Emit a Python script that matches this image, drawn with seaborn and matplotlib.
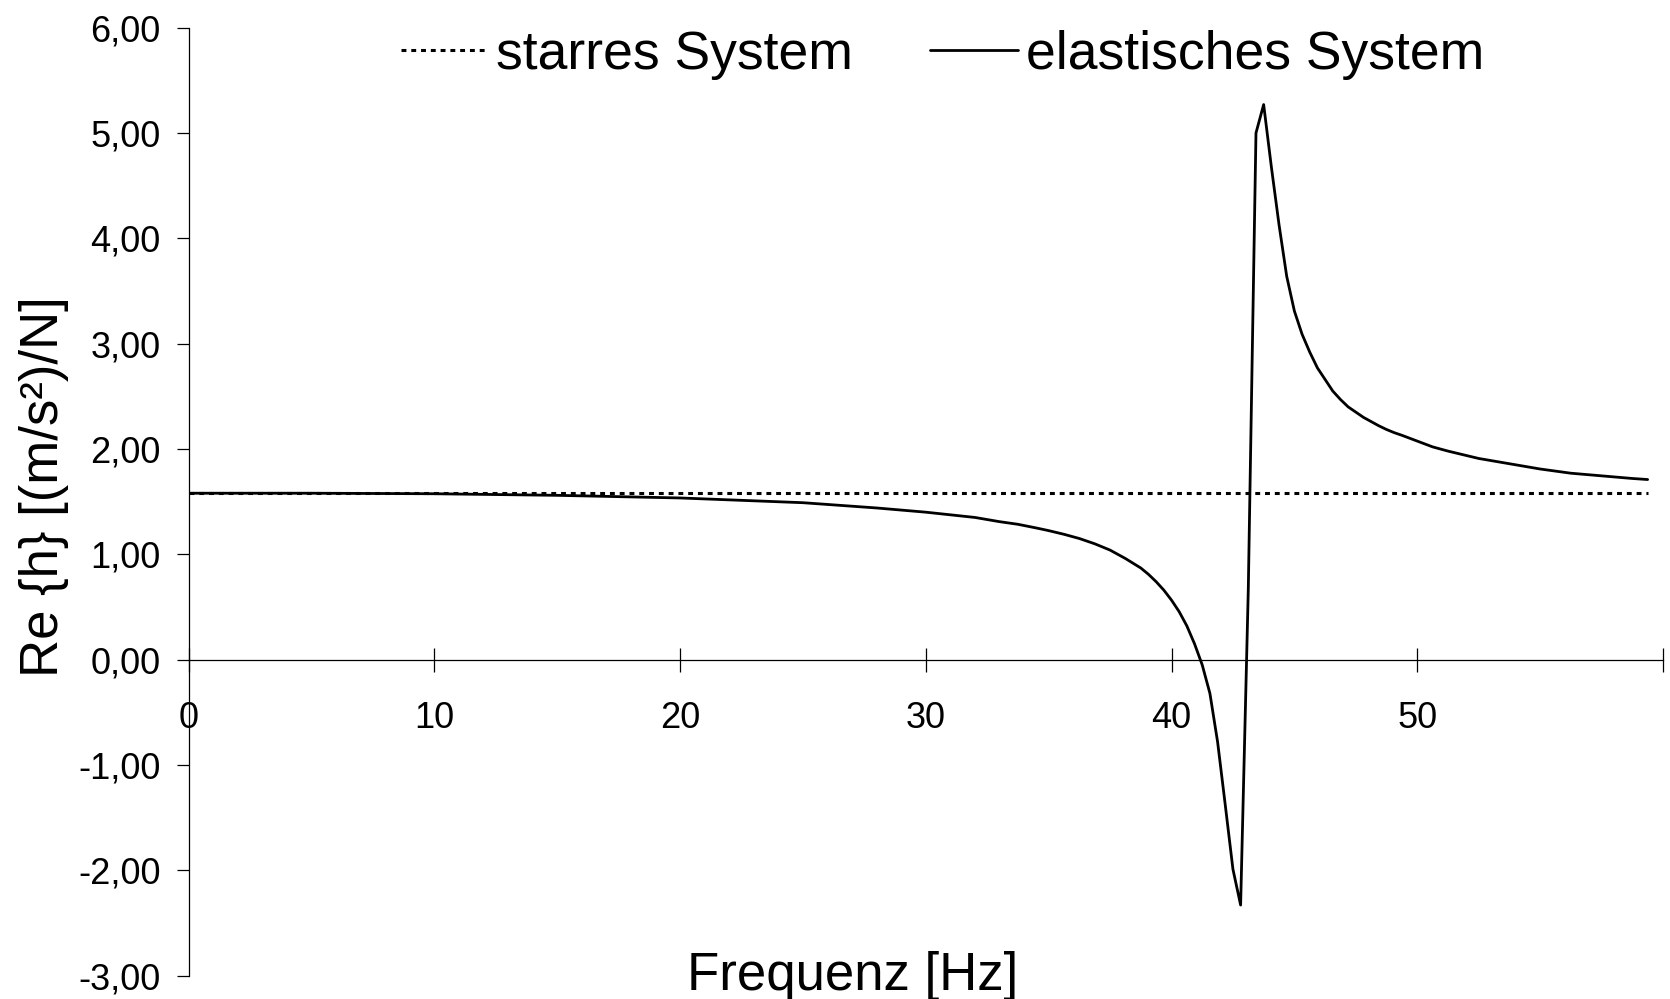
import numpy as np
import pandas as pd
import seaborn as sns
import matplotlib
matplotlib.use("Agg")
from matplotlib import pyplot as plt

# Frequenz [Hz] und Re{h} fuer elastisches System
freq_el = [0.0, 5.0, 10.0, 15.0, 20.0, 25.0, 28.0, 30.0, 31.0, 32.0, 33.0, 33.75,
           34.5, 35.0, 35.625, 36.25, 36.875, 37.5, 38.125, 38.75, 39.0625,
           39.375, 39.6875, 40.0, 40.3125, 40.625, 40.9375, 41.25, 41.5625,
           41.875, 42.1875, 42.5, 42.8125, 43.125, 43.4375, 43.75, 44.0625,
           44.375, 44.6875, 45.0, 45.3125, 45.625, 45.9375, 46.25, 46.5625,
           46.875, 47.1875, 47.5, 47.8125, 48.125, 48.4375, 48.75, 49.0625,
           49.375, 50.0, 50.625, 51.25, 52.5, 53.75, 55.0, 56.25, 57.5, 58.75,
           59.375]
re_el = [1.58, 1.58, 1.575, 1.56, 1.535, 1.49, 1.44, 1.40, 1.375, 1.35, 1.31, 1.285,
         1.25, 1.225, 1.19, 1.15, 1.10, 1.04, 0.96, 0.87, 0.81,
         0.74, 0.66, 0.565, 0.455, 0.32, 0.15, -0.05, -0.32,
         -0.78, -1.38, -1.99, -2.33, 0.67, 5.00, 5.27, 4.68,
         4.13, 3.64, 3.31, 3.09, 2.92, 2.77, 2.66, 2.55,
         2.47, 2.40, 2.35, 2.30, 2.26, 2.22, 2.185, 2.155,
         2.13, 2.075, 2.02, 1.98, 1.91, 1.86, 1.81, 1.77, 1.745, 1.72,
         1.71]

# starres System: konstant
freq_st = [0.0, 59.375]
re_st = [1.58, 1.58]

yticks = [-3, -2, -1, 0, 1, 2, 3, 4, 5, 6]
ytick_labels = ["-3,00", "-2,00", "-1,00", "0,00", "1,00", "2,00", "3,00", "4,00", "5,00", "6,00"]
xticks = [0, 10, 20, 30, 40, 50, 60]
xtick_labels = ["0", "10", "20", "30", "40", "50", ""]

sns.set_style("white")
plt.rcParams['font.family'] = ['Liberation Sans', 'DejaVu Sans']
plt.rcParams['text.color'] = 'black'
plt.rcParams['axes.labelcolor'] = 'black'
plt.rcParams['xtick.color'] = 'black'
plt.rcParams['ytick.color'] = 'black'

fig = plt.figure(figsize=(16.7, 9.99), dpi=100)
ax = fig.add_axes([0.1129, 0.0234, 0.9958 - 0.1129, 0.9723 - 0.0234])

sns.lineplot(x=freq_st, y=re_st, ax=ax, color="black", lw=2.2,
             linestyle=(0, (1.6, 1.6)), label="starres System")
sns.lineplot(x=freq_el, y=re_el, ax=ax, color="black", lw=2.0,
             label="elastisches System")

ax.set_xlim(0, 60)
ax.set_ylim(-3, 6)

for s in ["top", "right"]:
    ax.spines[s].set_visible(False)
ax.spines["bottom"].set_position(("data", 0))
for s in ["left", "bottom"]:
    ax.spines[s].set_color("black")
    ax.spines[s].set_linewidth(0.9)

ax.set_yticks(yticks)
ax.set_yticklabels(ytick_labels)
ax.set_xticks(xticks)
ax.set_xticklabels(xtick_labels)
ax.tick_params(axis="y", direction="out", length=9, width=0.9, pad=11,
               labelsize=26, left=True)
ax.tick_params(axis="x", direction="inout", length=17, width=0.9, pad=21,
               labelsize=26, bottom=True)

ax.set_xlabel("Frequenz [Hz]", fontsize=38)
ax.xaxis.set_label_coords(0.4507, 0.026)
ax.set_ylabel("Re {h} [(m/s²)/N]", fontsize=38)
ax.yaxis.set_label_coords(-0.081, 0.5155)

leg = ax.legend(loc="center", bbox_to_anchor=(0.5644, 0.945),
                bbox_transform=fig.transFigure, ncol=2, frameon=False,
                fontsize=38.5, handlelength=1.63, handletextpad=0.16,
                columnspacing=1.44, borderpad=0, borderaxespad=0)

fig.savefig("out.png", dpi=100)
